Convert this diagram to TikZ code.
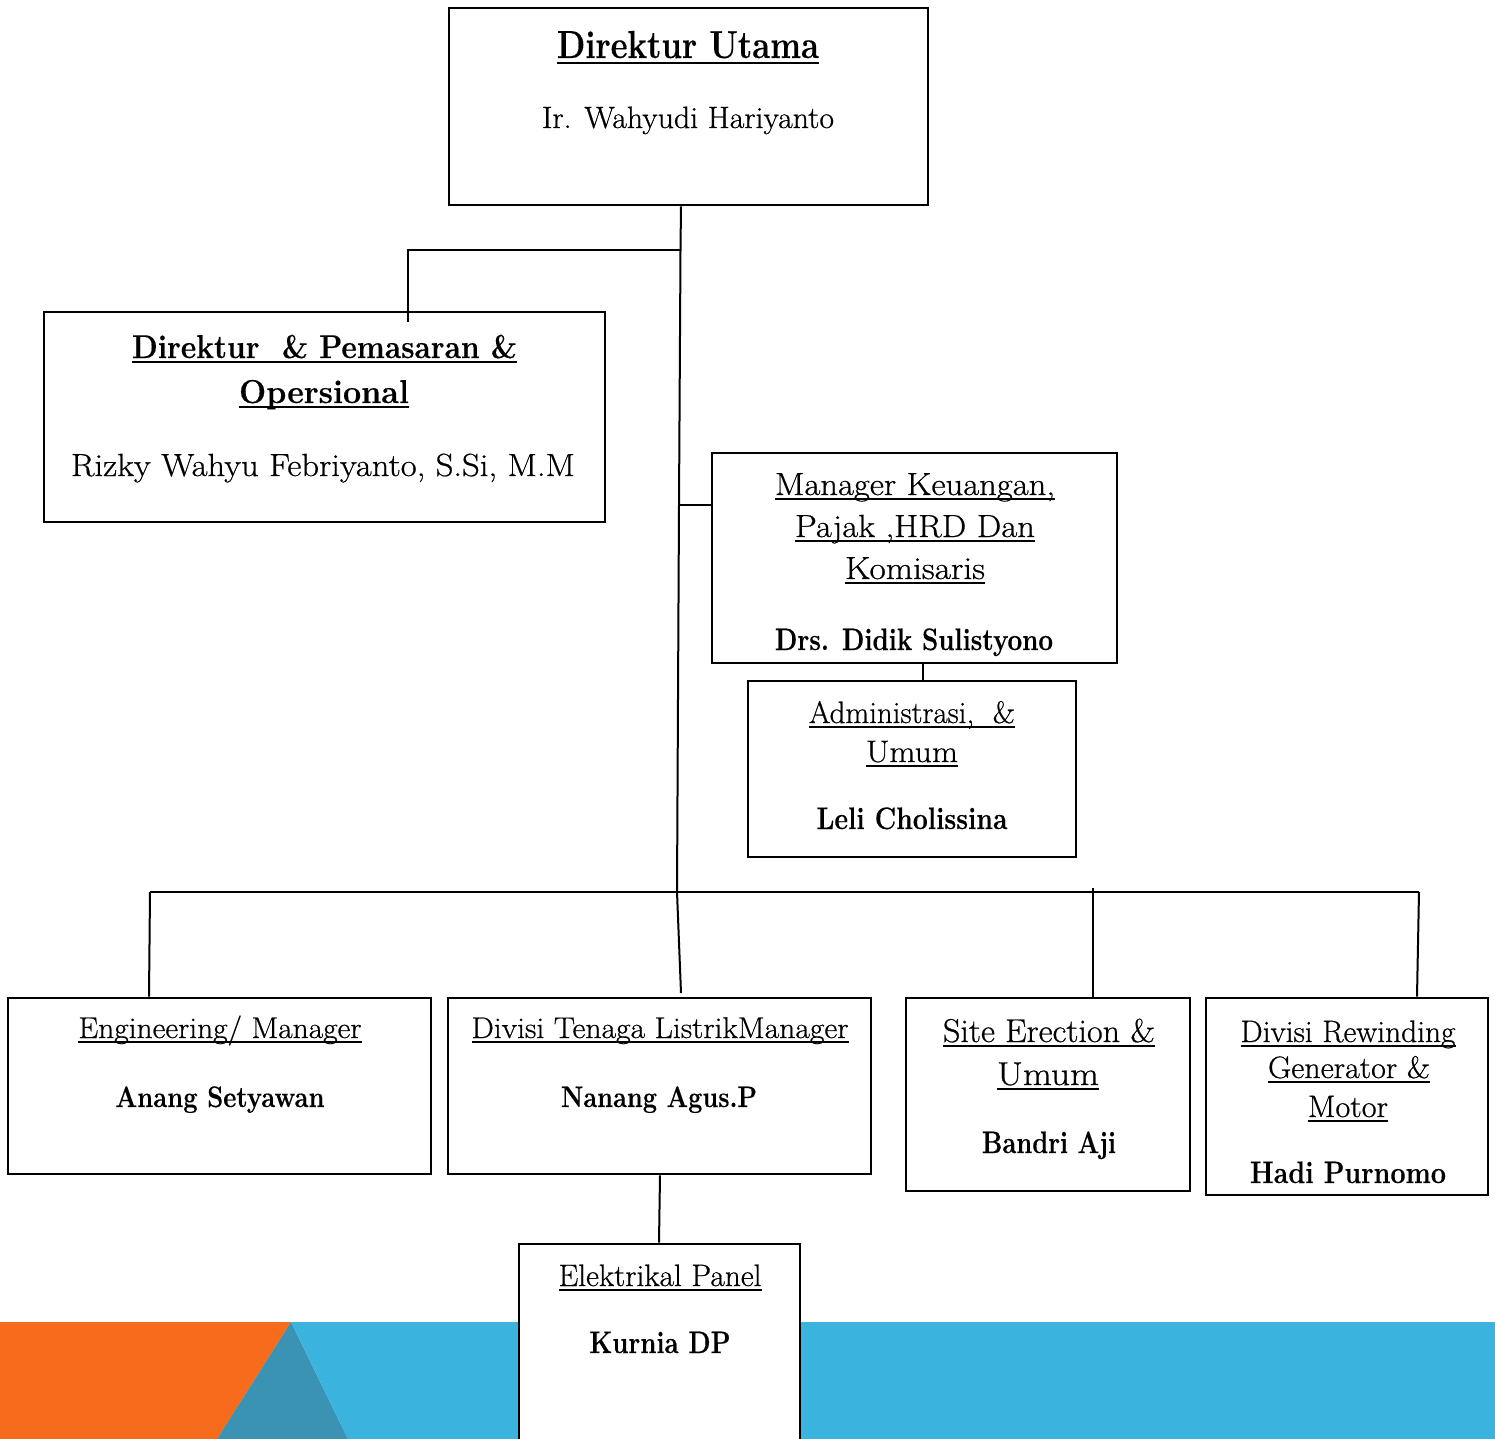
\documentclass[tikz,border=0pt]{standalone}
\usepackage{graphicx}
\usepackage{fontspec}
\setmainfont{Latin Modern Roman}[UprightFeatures={FakeBold=0.6}, BoldFeatures={FakeBold=0.4}]
\usetikzlibrary{fit}
\definecolor{bandorange}{HTML}{F76B1D}
\definecolor{bandblue}{HTML}{3AB3DF}
\definecolor{bandteal}{HTML}{3A93B3}
\newlength\pxu \setlength\pxu{0.5pt}
\newsavebox\ulbox
\newcommand\ul[1]{\sbox\ulbox{#1}\rlap{\rule[-0.16em]{\wd\ulbox}{0.07em}}\usebox\ulbox}
\newcommand\tx[3]{\resizebox{#1\pxu}{\height}{\fontsize{#2}{#2}\selectfont #3}}
\tikzset{
  orgbox/.style={draw=black, line width=1.3pt, inner sep=0pt, fill=white},
  conn/.style={draw=black, line width=1pt},
  lbl/.style={inner sep=0pt, anchor=base}
}
\begin{document}
\begin{tikzpicture}[x=0.5pt,y=-0.5pt]
\clip (0,0) rectangle (1495,1439);
\fill[white] (0,0) rectangle (1495,1439);
% bottom band
\fill[bandorange] (0,1322) -- (291,1322) -- (217,1439) -- (0,1439) -- cycle;
\fill[bandteal] (291,1322) -- (348,1439) -- (217,1439) -- cycle;
\fill[bandblue] (291,1322) -- (1495,1322) -- (1495,1439) -- (348,1439) -- cycle;

% boxes
\node[orgbox, fit={(449,8) (928,205)}] (du) {};
\node[orgbox, fit={(44,312) (605,522)}] (dp) {};
\node[orgbox, fit={(712,453) (1117,663)}] (mk) {};
\node[orgbox, fit={(748,681) (1076,857)}] (adm) {};
\node[orgbox, fit={(8,998) (431,1174)}] (eng) {};
\node[orgbox, fit={(448,998) (871,1174)}] (dtl) {};
\node[orgbox, fit={(906,998) (1190,1191)}] (se) {};
\node[orgbox, fit={(1206,998) (1488,1195)}] (rw) {};
\node[orgbox, fit={(519,1244) (800,1460)}] (ep) {};

% junction coordinates
\coordinate (j1) at (680.5,250);
\coordinate (jm) at (679,505);
\coordinate (jb) at (677,892);
\coordinate (jdp) at (408,250);
\coordinate (edp) at (408,322);
\coordinate (bl) at (150,892);
\coordinate (br) at (1419,892);
\coordinate (bse) at (1093,888);
\coordinate (edtl) at (681,993);
\coordinate (xdu) at (681,0);
\coordinate (xa) at (923,0);
\coordinate (xe) at (149,0);
\coordinate (xr) at (1417,0);
\coordinate (xs) at (1093,0);
\coordinate (xd1) at (660,0);
\coordinate (xd2) at (659,0);

% connectors
\draw[conn] (du.south -| xdu) -- (j1) -- (jm) -- (jb) -- (edtl);
\draw[conn] (j1) -- (jdp) -- (edp);
\draw[conn] (jm) -- (mk.west |- jm);
\draw[conn] (mk.south -| xa) -- (adm.north -| xa);
\draw[conn] (bl) -- (br);
\draw[conn] (bl) -- (eng.north -| xe);
\draw[conn] (br) -- (rw.north -| xr);
\draw[conn] (bse) -- (se.north -| xs);
\draw[conn] (dtl.south -| xd1) -- (ep.north -| xd2);

% texts
\node[lbl] (t1) at (688,58) {\tx{262}{19.5}{\bfseries\ul{Direktur Utama}}};
\node[lbl] (t2) at (688,128) {\tx{292}{15.4}{Ir. Wahyudi Hariyanto}};
\node[lbl] (t3) at (324.5,358) {\tx{385}{16.5}{\bfseries\ul{Direktur\ \ \& Pemasaran \&}}};
\node[lbl] (t4) at (324,403) {\tx{170}{16.5}{\bfseries\ul{Opersional}}};
\node[lbl] (t5) at (323,476) {\tx{504}{16}{Rizky Wahyu Febriyanto, S.Si, M.M}};
\node[lbl] (t6) at (915,495) {\tx{280}{16}{\ul{Manager Keuangan,}}};
\node[lbl] (t7) at (915,537) {\tx{240}{16}{\ul{Pajak ,HRD Dan}}};
\node[lbl] (t8) at (915,579) {\tx{140}{16}{\ul{Komisaris}}};
\node[lbl] (t9) at (914,650) {\tx{278}{15.5}{\bfseries Drs. Didik Sulistyono}};
\node[lbl] (t10) at (912,723) {\tx{206}{15.5}{\ul{Administrasi,\ \ \&}}};
\node[lbl] (t11) at (912,762) {\tx{92}{15.5}{\ul{Umum}}};
\node[lbl] (t12) at (912,829) {\tx{191}{15.5}{\bfseries Leli Cholissina}};
\node[lbl] (t13) at (220,1038) {\tx{283}{15}{\ul{Engineering/ Manager}}};
\node[lbl] (t14) at (660,1038) {\tx{377}{15}{\ul{Divisi Tenaga ListrikManager}}};
\node[lbl] (t15) at (220,1107) {\tx{209}{14.8}{\bfseries Anang Setyawan}};
\node[lbl] (t16) at (659,1107) {\tx{196}{14.8}{\bfseries Nanang Agus.P}};
\node[lbl] (t17) at (1049,1042) {\tx{212}{16.5}{\ul{Site Erection \&}}};
\node[lbl] (t18) at (1048,1085) {\tx{102}{16.5}{\ul{Umum}}};
\node[lbl] (t19) at (1049,1153) {\tx{134}{15.5}{\bfseries Bandri Aji}};
\node[lbl] (t20) at (1348,1042) {\tx{215}{15.5}{\ul{Divisi Rewinding}}};
\node[lbl] (t21) at (1349,1078) {\tx{162}{15.5}{\ul{Generator \&}}};
\node[lbl] (t22) at (1348,1117) {\tx{80}{15.5}{\ul{Motor}}};
\node[lbl] (t23) at (1348,1183) {\tx{196}{15.5}{\bfseries Hadi Purnomo}};
\node[lbl] (t24) at (660,1286) {\tx{203}{15.5}{\ul{Elektrikal Panel}}};
\node[lbl] (t25) at (660,1353) {\tx{141}{15.5}{\bfseries Kurnia DP}};
\end{tikzpicture}
\end{document}
